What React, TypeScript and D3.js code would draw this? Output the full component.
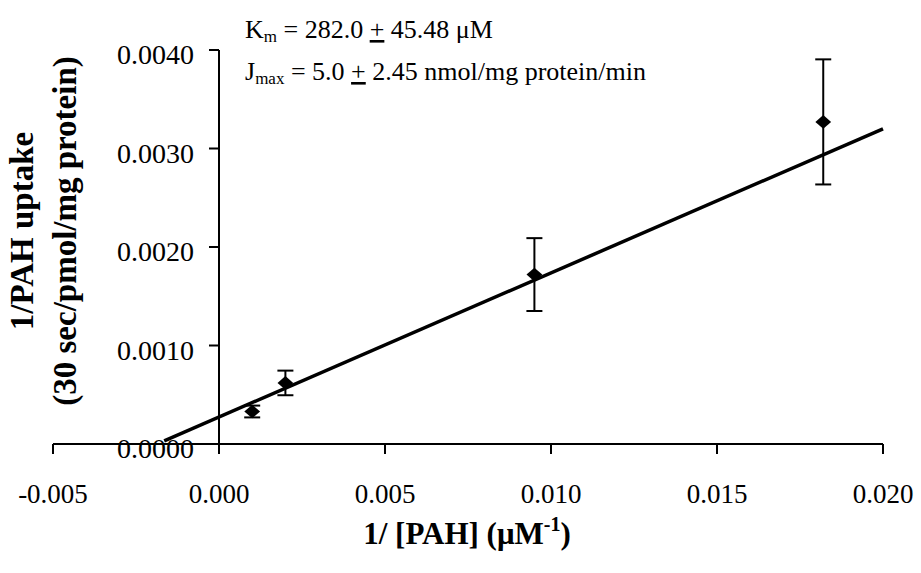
import React from "react";
import * as d3 from "d3";

// Data
const invConc = [0.001, 0.002, 0.0095, 0.0182];
const invUptake = [0.00033, 0.00062, 0.00172, 0.00327];
const sem = [0.00006, 0.000125, 0.00037, 0.000635];
const fitIntercept = 0.000274;
const fitSlope = 0.1463;
const fitRange = [-0.00165, 0.02];
const xTicks = [-0.005, 0, 0.005, 0.01, 0.015, 0.02];
const xTickLabels = ["-0.005", "0.000", "0.005", "0.010", "0.015", "0.020"];
const yTicks = [0, 0.001, 0.002, 0.003, 0.004];
const yTickLabels = ["0.0000", "0.0010", "0.0020", "0.0030", "0.0040"];

const W = 921;
const H = 573;
const FONT = "Liberation Serif";

export default function App() {
  const x = d3.scaleLinear().domain([-0.005, 0.02]).range([53, 883]);
  const y = d3.scaleLinear().domain([0, 0.004]).range([444, 50]);
  const x0 = x(0);
  const y0 = y(0);

  const line = d3
    .line<number>()
    .x((d) => x(d))
    .y((d) => y(fitIntercept + fitSlope * d));

  const diamond = d3.symbol().type(d3.symbolDiamond).size(110)();
  const ts = { fontFamily: FONT };

  return (
    <svg width={W} height={H} style={{ position: "absolute", left: 0, top: 0, background: "#fff" }}>
      <rect x={0} y={0} width={W} height={H} fill="#fff" />
      {/* Y axis */}
      <line x1={x0} x2={x0} y1={y(0.004)} y2={y0 + 10} stroke="#000" strokeWidth={2} />
      {yTicks.map((t, i) => (
        <g key={"yt" + i}>
          <line x1={x0 - 10} x2={x0} y1={y(t)} y2={y(t)} stroke="#000" strokeWidth={2} />
          <text x={x0 - 25} y={y(t) + 14} textAnchor="end" fontSize={28} fill="#000" style={ts}>
            {yTickLabels[i]}
          </text>
        </g>
      ))}
      {/* X axis */}
      <line x1={x(-0.005)} x2={x(0.02)} y1={y0} y2={y0} stroke="#000" strokeWidth={2} />
      {xTicks.map((t, i) => (
        <g key={"xt" + i}>
          <line x1={x(t)} x2={x(t)} y1={y0} y2={y0 + 10} stroke="#000" strokeWidth={2} />
          <text x={x(t)} y={y0 + 59} textAnchor="middle" fontSize={27} fill="#000" style={ts}>
            {xTickLabels[i]}
          </text>
        </g>
      ))}

      {/* Fit line */}
      <path d={line(fitRange) || ""} fill="none" stroke="#000" strokeWidth={3.5} />

      {/* Error bars and points */}
      {invConc.map((c, i) => {
        const cx = x(c);
        const top = y(invUptake[i] + sem[i]);
        const bot = y(invUptake[i] - sem[i]);
        return (
          <g key={"p" + i}>
            <line x1={cx} x2={cx} y1={top} y2={bot} stroke="#000" strokeWidth={2} />
            <line x1={cx - 8} x2={cx + 8} y1={top} y2={top} stroke="#000" strokeWidth={2} />
            <line x1={cx - 8} x2={cx + 8} y1={bot} y2={bot} stroke="#000" strokeWidth={2} />
            <path
              d={diamond || ""}
              transform={`translate(${cx},${y(invUptake[i])}) scale(1.4,0.7)`}
              fill="#000"
            />
          </g>
        );
      })}

      {/* Annotations */}
      <text x={245} y={38} fontSize={26} fill="#000" style={ts}>
        K<tspan fontSize={17} dy={4}>m</tspan>
        <tspan dy={-4}> = 282.0 </tspan>
        <tspan textDecoration="underline">+</tspan>
        <tspan> 45.48 μM</tspan>
      </text>
      <text x={245} y={80} fontSize={26} fill="#000" style={ts}>
        J<tspan fontSize={17} dy={4}>max</tspan>
        <tspan dy={-4}> = 5.0 </tspan>
        <tspan textDecoration="underline">+</tspan>
        <tspan> 2.45 nmol/mg protein/min</tspan>
      </text>

      {/* Axis titles */}
      <text x={467} y={544} textAnchor="middle" fontSize={31} fontWeight="bold" fill="#000" style={ts}>
        1/ [PAH] (μM<tspan fontSize={20} dy={-13}>-1</tspan>
        <tspan dy={13}>)</tspan>
      </text>
      <g transform="translate(33,231) rotate(-90)">
        <text x={0} y={0} textAnchor="middle" fontSize={33} fontWeight="bold" fill="#000" style={ts}>
          1/PAH uptake
        </text>
      </g>
      <g transform="translate(76,231) rotate(-90)">
        <text x={0} y={0} textAnchor="middle" fontSize={33} fontWeight="bold" fill="#000" style={ts}>
          (30 sec/pmol/mg protein)
        </text>
      </g>
    </svg>
  );
}
